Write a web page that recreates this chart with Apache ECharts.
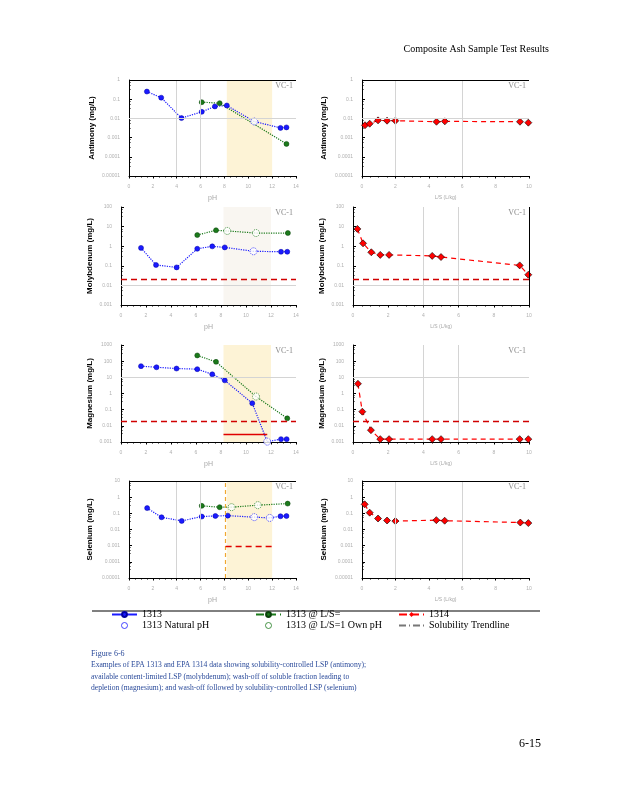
<!DOCTYPE html>
<html><head><meta charset="utf-8">
<script src="https://cdn.jsdelivr.net/npm/echarts@6/dist/echarts.min.js"></script>
<style>html,body{margin:0;padding:0;background:#fff}#c{width:618px;height:800px}</style>
</head><body><div id="c"></div><script>
// ---------- DATA ----------
const shadePH=[8.2,12];
// Antimony
const sbPH1313=[1.5,2.7,4.4,6.1,7.2,8.2,12.7,13.2];
const sbVal1313=[0.25,0.12,0.0104,0.022,0.042,0.047,0.0032,0.0034];
const sbPHNat=[10.5]; const sbValNat=[0.0069];
const sbPHLS=[6.1,7.6,13.2]; const sbValLS=[0.07,0.062,0.00047];
const sbPHOwn=[]; const sbValOwn=[];
const sbLS1314=[0.18,0.46,0.96,1.5,2.0,4.46,4.96,9.46,9.96];
const sbVal1314=[0.0044,0.0053,0.0079,0.0076,0.0076,0.0067,0.0070,0.0067,0.0060];
const sbLimit=0.001; const sbBase=1.17e-5;
// Molybdenum
const moPH1313=[1.6,2.8,4.45,6.1,7.3,8.3,12.8,13.3];
const moVal1313=[0.82,0.11,0.083,0.74,0.98,0.87,0.52,0.52];
const moPHNat=[10.6]; const moValNat=[0.55];
const moPHLS=[6.1,7.6,13.35]; const moValLS=[3.7,6.5,4.7];
const moPHOwn=[8.5,10.8]; const moValOwn=[6.0,4.7];
const moLS1314=[0.25,0.57,1.04,1.55,2.05,4.5,5.0,9.47,9.96];
const moVal1314=[7.6,1.4,0.49,0.36,0.36,0.32,0.28,0.105,0.035];
const moLimit=0.024;
// Magnesium
const mgPH1313=[1.6,2.84,4.44,6.1,7.3,8.3,10.5,12.8,13.25];
const mgVal1313=[49,42,35,32,15.4,6.5,0.25,0.0015,0.0015];
const mgPHNat=[11.7]; const mgValNat=[0.00105];
const mgPHLS=[6.1,7.6,13.3]; const mgValLS=[226,91,0.029];
const mgPHOwn=[10.8]; const mgValOwn=[0.65];
const mgLS1314=[0.28,0.53,1.02,1.55,2.05,4.5,5.0,9.47,9.96];
const mgVal1314=[4.0,0.075,0.0054,0.0015,0.0015,0.0015,0.0015,0.0015,0.0015];
const mgLimit=0.022;
const mgSeg=[8.2,11.7,0.003];
// Selenium
const sePH1313=[1.52,2.73,4.42,6.1,7.24,8.28,12.7,13.2];
const seVal1313=[0.21,0.057,0.034,0.063,0.069,0.072,0.066,0.068];
const sePHNat=[10.5,11.8]; const seValNat=[0.058,0.052];
const sePHLS=[6.1,7.6,13.3]; const seValLS=[0.29,0.24,0.40];
const sePHOwn=[8.6,10.8]; const seValOwn=[0.24,0.32];
const seLS1314=[0.16,0.46,0.96,1.5,2.0,4.45,4.95,9.48,9.96];
const seVal1314=[0.36,0.11,0.048,0.036,0.033,0.038,0.035,0.027,0.025];
const seLimit=6.4e-5;
const seSeg=[8.1,12,0.0009];
const seNatPH=8.1;

const captionLines=[
 'Examples of EPA 1313 and EPA 1314 data showing solubility-controlled LSP (antimony);',
 'available content-limited LSP (molybdenum); wash-off of soluble fraction leading to',
 'depletion (magnesium); and wash-off followed by solubility-controlled LSP (selenium)'
];

// ---------- STYLE / LAYOUT ----------
const BLUE='#1a1aff', GREEN='#1b7a1b', RED='#ff0000', LIM='#d00000', DRED='#9a1414';
const GRIDC='#d4d4d4';
const panels=[
 {kind:'ph',g:[129,80,167,96],ymin:1e-5,ymax:1,name:'Antimony (mg/L)',gap:33,
  blue:[sbPH1313,sbVal1313],nat:[sbPHNat,sbValNat],green:[sbPHLS,sbValLS],own:[sbPHOwn,sbValOwn],
  shade:'#fdf3d6',vg:[4,6],hg:[0.01],lines:[{yAxis:sbLimit,c:LIM,t:[6,4],w:1.3},{yAxis:sbBase,c:DRED,t:'solid',w:1.3},{yAxis:1,c:'#000',t:'solid',w:1}]},
 {kind:'ls',g:[362,80,167,96],ymin:1e-5,ymax:1,name:'Antimony (mg/L)',gap:34,
  red:[sbLS1314,sbVal1314],vg:[2,6],hg:[0.01],lines:[{yAxis:sbLimit,c:LIM,t:[6,4],w:1.3},{yAxis:sbBase,c:DRED,t:'solid',w:1.3},{yAxis:1,c:'#000',t:'solid',w:1}]},
 {kind:'ph',g:[121,207,175,98],ymin:1e-3,ymax:100,name:'Molybdenum (mg/L)',gap:27,
  blue:[moPH1313,moVal1313],nat:[moPHNat,moValNat],green:[moPHLS,moValLS],own:[moPHOwn,moValOwn],
  shade:'#f9f6f1',vg:[],hg:[0.01],lines:[{yAxis:moLimit,c:LIM,t:[6,4],w:1.3}]},
 {kind:'ls',g:[353,207,176,98],ymin:1e-3,ymax:100,name:'Molybdenum (mg/L)',gap:27,
  red:[moLS1314,moVal1314],vg:[4,6],hg:[0.01],lines:[{yAxis:moLimit,c:LIM,t:[6,4],w:1.3},{xAxis:10,c:'#000',t:'solid',w:1}]},
 {kind:'ph',g:[121,345,175,97],ymin:1e-3,ymax:1000,name:'Magnesium (mg/L)',gap:27,
  blue:[mgPH1313,mgVal1313],nat:[mgPHNat,mgValNat],green:[mgPHLS,mgValLS],own:[mgPHOwn,mgValOwn],
  shade:'#fdf3d6',vg:[],hg:[10],lines:[{yAxis:mgLimit,c:LIM,t:[6,4],w:1.3}],
  seg:{v:mgSeg,c:'#e00000',t:'solid',w:1.3}},
 {kind:'ls',g:[353,345,176,97],ymin:1e-3,ymax:1000,name:'Magnesium (mg/L)',gap:27,
  red:[mgLS1314,mgVal1314],vg:[4,6],hg:[10],lines:[{yAxis:mgLimit,c:LIM,t:[6,4],w:1.3}]},
 {kind:'ph',g:[129,481,167,97],ymin:1e-5,ymax:10,name:'Selenium (mg/L)',gap:35,
  blue:[sePH1313,seVal1313],nat:[sePHNat,seValNat],green:[sePHLS,seValLS],own:[sePHOwn,seValOwn],
  shade:'#fdf3d6',vg:[4,6],hg:[1e-4],lines:[{yAxis:seLimit,c:DRED,t:'solid',w:1.3},{yAxis:10,c:'#000',t:'solid',w:1},{xAxis:seNatPH,c:'#f0a830',t:[4,3],w:1.2}],
  seg:{v:seSeg,c:'#e00000',t:[6,4],w:1.3}},
 {kind:'ls',g:[362,481,167,97],ymin:1e-5,ymax:10,name:'Selenium (mg/L)',gap:34,
  red:[seLS1314,seVal1314],vg:[2,6],hg:[1e-4],lines:[{yAxis:seLimit,c:DRED,t:'solid',w:1.3},{yAxis:10,c:'#000',t:'solid',w:1}]}
];

function pairs(xs,ys){return xs.map((x,i)=>[x,ys[i]]);}
function merged(xs,ys,nx,ny){
  const a=xs.map((x,i)=>({value:[x,ys[i]]}));
  const b=nx.map((x,i)=>({value:[x,ny[i]],symbol:'none'}));
  return a.concat(b).sort((p,q)=>p.value[0]-q.value[0]);
}
function fmt(v){const n=+(+v).toPrecision(1);return n>=1?String(n):n.toFixed(Math.round(-Math.log10(n)));}

const grids=[],xAxes=[],yAxes=[],series=[],graphics=[];
const labelStyle={fontSize:5,color:'#b0b0b0',fontFamily:'Liberation Sans'};
panels.forEach((p,i)=>{
  const [L,T,W,H]=p.g;
  grids.push({left:L,top:T,width:W,height:H});
  const isPH=p.kind==='ph';
  xAxes.push({gridIndex:i,type:'value',min:0,max:isPH?14:10,interval:2,
    name:isPH?'pH':'L/S (L/kg)',nameLocation:'middle',nameGap:19,
    nameTextStyle:{fontSize:isPH?7:5,color:'#a8a8a8',fontFamily:'Liberation Sans'},
    axisLine:{onZero:false,lineStyle:{color:'#000',width:1}},
    axisTick:{length:2.5,lineStyle:{color:'#000'}},
    minorTick:{show:true,splitNumber:4,length:1.5,lineStyle:{color:'#000'}},
    splitLine:{show:false},axisLabel:Object.assign({margin:8},labelStyle)});
  yAxes.push({gridIndex:i,type:'log',logBase:10,min:p.ymin,max:p.ymax,
    name:p.name,nameLocation:'middle',nameGap:p.gap,nameRotate:90,
    nameTextStyle:{fontFamily:'Liberation Sans',fontWeight:'bold',fontSize:8,color:'#000'},
    axisLine:{show:true,lineStyle:{color:'#000',width:1}},
    axisTick:{show:true,inside:true,length:3,lineStyle:{color:'#000'}},
    minorTick:{show:true,splitNumber:4,length:1.5,lineStyle:{color:'#000'}},
    splitLine:{show:false},
    axisLabel:Object.assign({margin:9,formatter:fmt},labelStyle)});
  if(p.shade){
    series.push({type:'line',xAxisIndex:i,yAxisIndex:i,data:[],z:0,silent:true,
      markArea:{silent:true,itemStyle:{color:p.shade},data:[[{xAxis:shadePH[0]},{xAxis:shadePH[1]}]]}});
  }
  const ml=[];
  p.vg.forEach(v=>ml.push({xAxis:v,lineStyle:{color:GRIDC,width:1,type:'solid'}}));
  p.hg.forEach(v=>ml.push({yAxis:v,lineStyle:{color:GRIDC,width:1,type:'solid'}}));
  p.lines.forEach(l=>{const o={lineStyle:{color:l.c,width:l.w,type:l.t}};if(l.yAxis!==undefined)o.yAxis=l.yAxis;else o.xAxis=l.xAxis;ml.push(o);});
  if(p.seg){const s=p.seg, ls={color:s.c,width:s.w,type:s.t};
    ml.push([{coord:[s.v[0],s.v[2]],lineStyle:ls},{coord:[s.v[1],s.v[2]],lineStyle:ls}]);}
  series.push({type:'line',xAxisIndex:i,yAxisIndex:i,data:[],z:1,silent:true,
    markLine:{silent:true,symbol:['none','none'],label:{show:false},animation:false,data:ml}});
  if(isPH){
    series.push({name:'1313',type:'line',xAxisIndex:i,yAxisIndex:i,z:3,
      data:merged(p.blue[0],p.blue[1],p.nat[0],p.nat[1]),
      symbol:'circle',symbolSize:5,itemStyle:{color:BLUE,borderColor:'#0000a0',borderWidth:0.5},
      lineStyle:{color:BLUE,width:1.2,type:'dotted'}});
    series.push({name:'1313 Natural pH',type:'scatter',xAxisIndex:i,yAxisIndex:i,z:4,
      data:pairs(p.nat[0],p.nat[1]),symbol:'circle',symbolSize:7,
      itemStyle:{color:'#fff',borderColor:BLUE,borderWidth:1,borderType:'dotted'}});
    series.push({name:'1313 @ L/S=',type:'line',xAxisIndex:i,yAxisIndex:i,z:3,
      data:merged(p.green[0],p.green[1],p.own[0],p.own[1]),
      symbol:'circle',symbolSize:5,itemStyle:{color:GREEN,borderColor:'#0a400a',borderWidth:0.5},
      lineStyle:{color:GREEN,width:1.2,type:'dotted'}});
    series.push({name:'1313 @ L/S=1 Own pH',type:'scatter',xAxisIndex:i,yAxisIndex:i,z:4,
      data:pairs(p.own[0],p.own[1]),symbol:'circle',symbolSize:7,
      itemStyle:{color:'#fff',borderColor:GREEN,borderWidth:1,borderType:'dotted'}});
  } else {
    series.push({name:'1314',type:'line',xAxisIndex:i,yAxisIndex:i,z:3,
      data:pairs(p.red[0],p.red[1]),symbol:'diamond',symbolSize:7,
      itemStyle:{color:RED,borderColor:'#000',borderWidth:0.6},
      lineStyle:{color:RED,width:1.2,type:[5,4]}});
  }
  graphics.push({type:'text',right:618-(L+W-3),top:T+2,
    style:{text:'VC-1',font:'8px "Liberation Serif"',fill:'#8a8a8a'}});
});
series.push({name:'Solubility Trendline',type:'line',xAxisIndex:0,yAxisIndex:0,data:[],symbol:'none',
  itemStyle:{color:'#777'},lineStyle:{color:'#777',width:1.2,type:[7,3,1,3]}});

// page texts
graphics.push({type:'text',right:618-549,top:44,style:{text:'Composite Ash Sample Test Results',font:'10px "Liberation Serif"',fill:'#000'}});
graphics.push({type:'line',shape:{x1:92,y1:611,x2:540,y2:611},style:{stroke:'#000',lineWidth:1}});
graphics.push({type:'text',left:91,top:650,style:{text:'Figure 6-6',font:'8px "Liberation Serif"',fill:'#2a4a9a'}});
captionLines.forEach((t,k)=>graphics.push({type:'text',left:91,top:661+k*11.5,style:{text:t,font:'7.6px "Liberation Serif"',fill:'#2a4a9a'}}));
graphics.push({type:'text',right:618-541,top:738,style:{text:'6-15',font:'12px "Liberation Serif"',fill:'#000'}});

const legendBase={orient:'vertical',itemGap:0,itemWidth:25,itemHeight:6,padding:0,selectedMode:false,
  textStyle:{fontFamily:'Liberation Serif',fontSize:10,lineHeight:11,color:'#000'}};
const chart=echarts.init(document.getElementById('c'),null,{renderer:'canvas'});
chart.setOption({
  animation:false,backgroundColor:'#fff',
  grid:grids,xAxis:xAxes,yAxis:yAxes,series:series,graphic:graphics,
  legend:[
    Object.assign({left:111,top:609,data:[{name:'1313',lineStyle:{type:'solid'}},
      {name:'1313 Natural pH',itemStyle:{borderWidth:1}}]},legendBase),
    Object.assign({left:255,top:609,data:[{name:'1313 @ L/S=',lineStyle:{type:'dashed'}},
      {name:'1313 @ L/S=1 Own pH',itemStyle:{borderWidth:1}}]},legendBase),
    Object.assign({left:398,top:609,data:[
      {name:'1314',itemStyle:{color:RED,borderColor:RED,borderWidth:0},lineStyle:{color:RED,type:'dashed'}},
      {name:'Solubility Trendline',itemStyle:{color:'rgba(0,0,0,0)',borderWidth:0,opacity:0}}]},legendBase)
  ]
});
</script></body></html>
